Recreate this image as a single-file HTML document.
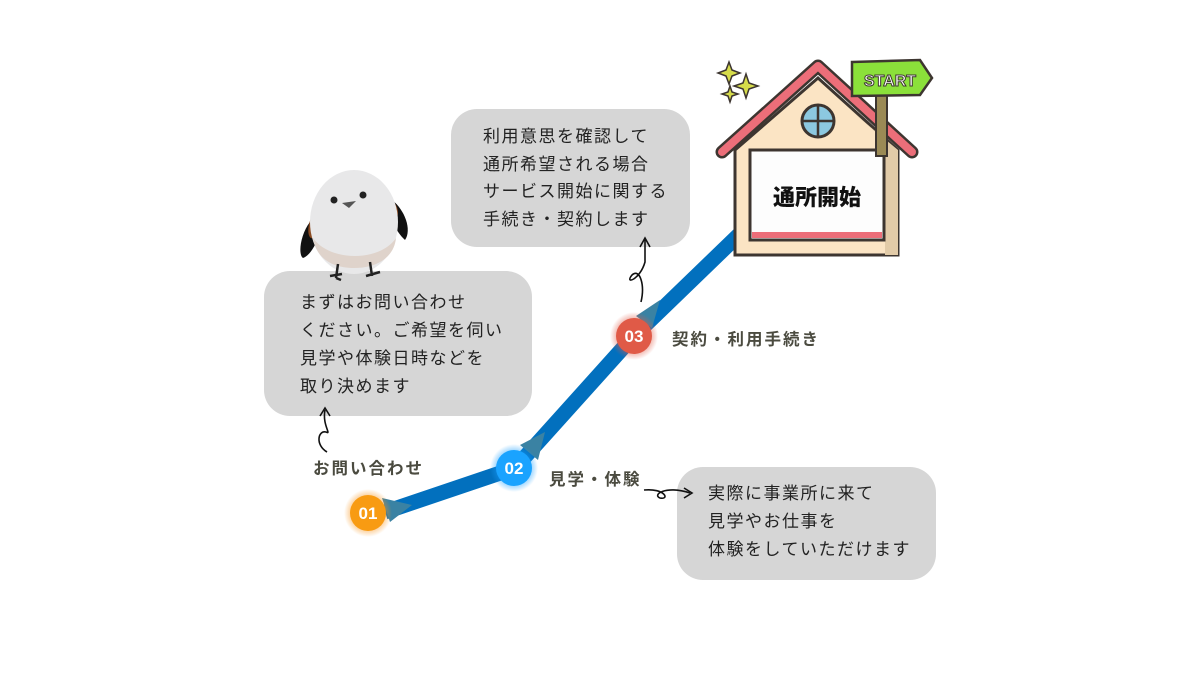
<!DOCTYPE html>
<html><head><meta charset="utf-8"><style>
body{margin:0;background:#fff;}
#c{position:relative;width:1200px;height:675px;overflow:hidden;background:#fff;font-family:"Liberation Sans","Noto Sans CJK JP",sans-serif;}
.box{position:absolute;background:#d6d6d6;border-radius:26px;}
.t{position:absolute;font-size:17px;color:#222;line-height:28px;white-space:nowrap;letter-spacing:1.5px}
.lab{position:absolute;font-weight:bold;font-size:16.5px;color:#4b4b40;white-space:nowrap;letter-spacing:2px}
svg{position:absolute;left:0;top:0}
</style></head><body><div id="c">
<div class="box" style="left:264px;top:271px;width:268px;height:145px"></div>
<div class="box" style="left:451px;top:109px;width:239px;height:138px"></div>
<div class="box" style="left:677px;top:467px;width:259px;height:113px"></div>
<svg width="1200" height="675" viewBox="0 0 1200 675">
<defs>
<radialGradient id="go"><stop offset="0.6" stop-color="#f7941d" stop-opacity="0.6"/><stop offset="1" stop-color="#f7941d" stop-opacity="0"/></radialGradient>
<radialGradient id="gb"><stop offset="0.6" stop-color="#1a9fff" stop-opacity="0.6"/><stop offset="1" stop-color="#1a9fff" stop-opacity="0"/></radialGradient>
<radialGradient id="gr"><stop offset="0.6" stop-color="#e05a47" stop-opacity="0.6"/><stop offset="1" stop-color="#e05a47" stop-opacity="0"/></radialGradient>
</defs>
<polyline points="385,512 515,468 632,338 752,222" fill="none" stroke="#0270be" stroke-width="15"/>
<polygon points="382,498 412,505 390,522" fill="#3a82a3"/>
<polygon points="520,445 545,432 538,460" fill="#3a82a3"/>
<polygon points="636,316 660,300 652,328" fill="#3a82a3"/>
<circle cx="368" cy="513" r="24" fill="url(#go)"/><circle cx="368" cy="513" r="18" fill="#f89b12"/>
<circle cx="514" cy="468" r="24" fill="url(#gb)"/><circle cx="514" cy="468" r="18" fill="#1aa3ff"/>
<circle cx="634" cy="336" r="24" fill="url(#gr)"/><circle cx="634" cy="336" r="18" fill="#e05a47"/>
<g font-family="Liberation Sans,sans-serif" font-weight="bold" font-size="17" fill="#fff" text-anchor="middle">
<text x="368" y="519">01</text><text x="514" y="474">02</text><text x="634" y="342">03</text></g>
<g fill="none" stroke="#111" stroke-width="1.6">
<path d="M327,452 C315,445 318,430 326,432 C332,435 322,425 325,410"/><path d="M320,416 L325,408 L330,416"/>
<path d="M641,302 C645,285 640,268 632,275 C624,285 640,280 645,262 L645,240"/><path d="M640,247 L645,238 L650,247"/>
<path d="M644,490 C665,488 670,500 660,498 C652,495 665,485 690,493"/><path d="M684,488 L692,493 L684,498"/>
</g>
<!-- bird -->
<path d="M310,222 C300,235 298,255 303,258 C312,255 322,235 323,215 Z" fill="#111"/>
<path d="M312,216 C306,228 308,240 313,238 C320,230 323,220 320,212 Z" fill="#8a4b22"/>
<path d="M392,200 C405,210 412,230 405,240 C396,232 390,218 388,205 Z" fill="#111"/>
<path d="M390,198 C398,204 400,215 396,218 C390,212 388,205 390,198 Z" fill="#8a4b22"/>
<ellipse cx="354" cy="222" rx="44" ry="52" fill="#e8e8e9"/>
<path d="M313,238 C330,262 380,262 396,238 C394,258 376,268 354,268 C332,268 316,258 313,238 Z" fill="#dfd3cb"/>
<circle cx="334" cy="200" r="3.5" fill="#222"/><circle cx="363" cy="195" r="3.5" fill="#222"/>
<path d="M342,203 L356,201 L349,208 Z" fill="#555"/>
<g stroke="#222" stroke-width="2.5" fill="none"><path d="M338,264 L336,278 M330,276 L342,274 M336,278 L341,280"/><path d="M370,262 L372,276 M366,276 L380,272"/></g>
<!-- house -->
<polygon points="735,150 818,78 898,150 898,255 735,255" fill="#fbe4c4" stroke="#3d3530" stroke-width="3"/>
<polygon points="850,110 898,150 898,255 885,255 885,140" fill="#e2cba8"/>
<path d="M722,152 L818,66 L912,152" fill="none" stroke="#3d3530" stroke-width="13" stroke-linecap="round" stroke-linejoin="round"/>
<path d="M722,152 L818,66 L912,152" fill="none" stroke="#ec6e79" stroke-width="8" stroke-linecap="round" stroke-linejoin="round"/>
<circle cx="818" cy="121" r="16" fill="#8cc8e0" stroke="#3d3530" stroke-width="3"/>
<path d="M818,105 V137 M802,121 H834" stroke="#3d3530" stroke-width="2.5"/>
<rect x="750" y="150" width="134" height="90" fill="#fdfdfd" stroke="#3d3530" stroke-width="3"/>
<rect x="752" y="232" width="130" height="6" fill="#ec6e79"/>
<text x="817" y="205" font-family="Liberation Sans,Noto Sans CJK JP,sans-serif" font-weight="900" font-size="22" text-anchor="middle" fill="#111">通所開始</text>
<rect x="876" y="88" width="11" height="68" fill="#9b8a55" stroke="#3d3530" stroke-width="2"/>
<polygon points="852,62 920,60 932,78 920,95 852,96" fill="#8be03a" stroke="#3d3530" stroke-width="2.5"/>
<text x="890" y="86" font-family="Liberation Sans,sans-serif" font-weight="bold" font-size="16" text-anchor="middle" fill="#fff" stroke="#3d3530" stroke-width="1">START</text>
<g fill="#d6dc4a" stroke="#3d3530" stroke-width="1.5">
<path d="M729,62 L732,70 L740,73 L732,76 L729,84 L726,76 L718,73 L726,70Z"/>
<path d="M746,74 L749,83 L758,86 L749,89 L746,98 L743,89 L734,86 L743,83Z"/>
<path d="M730,86 L732,92 L738,94 L732,96 L730,102 L728,96 L722,94 L728,92Z"/>
</g>
</svg>
<div class="t" style="left:300px;top:289px">まずはお問い合わせ<br>ください。ご希望を伺い<br>見学や体験日時などを<br>取り決めます</div>
<div class="t" style="left:483px;top:123px;line-height:27.5px">利用意思を確認して<br>通所希望される場合<br>サービス開始に関する<br>手続き・契約します</div>
<div class="t" style="left:708px;top:480px">実際に事業所に来て<br>見学やお仕事を<br>体験をしていただけます</div>
<div class="lab" style="left:313px;top:455px">お問い合わせ</div>
<div class="lab" style="left:549px;top:466px">見学・体験</div>
<div class="lab" style="left:672px;top:326px">契約・利用手続き</div>
</div></body></html>
